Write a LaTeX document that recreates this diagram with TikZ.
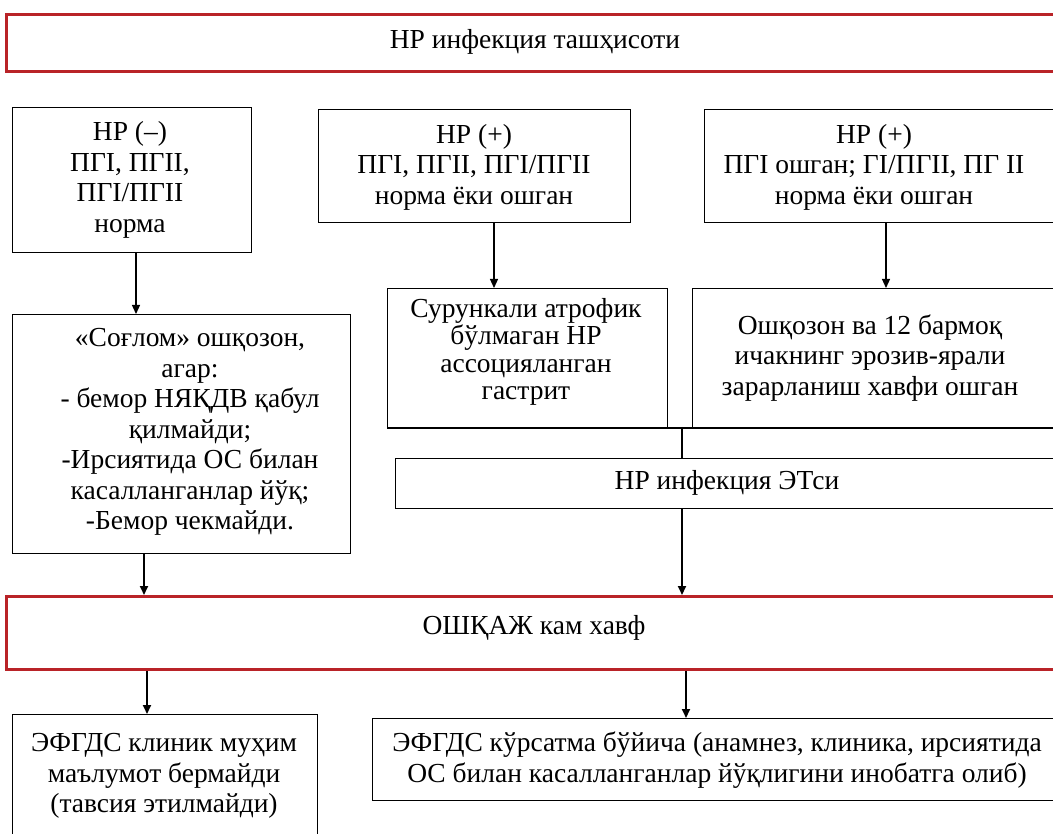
\documentclass[tikz,border=0pt]{standalone}
\usepackage{fontspec}
\setmainfont{Liberation Serif}
\usetikzlibrary{arrows.meta}
\definecolor{redb}{RGB}{185,35,40}
\begin{document}
\begin{tikzpicture}[x=1pt,y=-1pt,
  box/.style={draw=black,line width=1.2pt,inner sep=0pt,anchor=north west,fill=white},
  redbox/.style={draw=redb,line width=3pt,inner sep=0pt,anchor=north west,fill=white},
  txt/.style={font=\fontsize{27.5}{30.5}\selectfont,align=center,inner sep=0pt},
  tighttxt/.style={font=\fontsize{27.5}{27.5}\selectfont,align=center,inner sep=0pt},
  arr/.style={-{Triangle[length=9pt,width=8pt]},line width=1.2pt},
  tarr/.style={-{Triangle[length=9pt,width=8pt]},line width=2pt}]
\clip (0,0) rectangle (1053,834);
\fill[white] (0,0) rectangle (1053,834);
% top
\node[redbox,minimum width=1060pt,minimum height=57pt] (top) at (5,13) {};
\node[txt] (toptxt) at (535,42) {HP инфекция ташҳисоти};
% row 2
\node[box,minimum width=239pt,minimum height=145pt] (a) at (12,107) {};
\node[txt] (atxt) at (130,180) {HP (–)\\ПГI, ПГII,\\ПГI/ПГII\\норма};
\node[box,minimum width=312pt,minimum height=113pt] (b) at (318,109) {};
\node[txt] (btxt) at (474,167) {HP (+)\\ПГI, ПГII, ПГI/ПГII\\норма ёки ошган};
\node[box,minimum width=400pt,minimum height=113pt] (c) at (704,109) {};
\node[txt] (ctxtn) at (874,167) {HP (+)\\ПГI ошган; ГI/ПГII, ПГ II\\норма ёки ошган};
% row 3
\node[box,minimum width=338pt,minimum height=239pt] (d) at (12,314) {};
\node[txt] (dtxt) at (190,432) {«Соғлом» ошқозон,\\агар:\\- бемор НЯҚДВ қабул\\қилмайди;\\-Ирсиятида ОС билан\\касалланганлар йўқ;\\-Бемор чекмайди.};
\node[box,minimum width=280pt,minimum height=139pt] (e) at (387,288) {};
\node[tighttxt] (etxt) at (526,352) {Сурункали атрофик\\бўлмаган HP\\ассоцияланган\\гастрит};
\node[box,minimum width=400pt,minimum height=139pt] (f) at (692,288) {};
\node[txt] (ftxt) at (870,358) {Ошқозон ва 12 бармоқ\\ичакнинг эрозив-ярали\\зарарланиш хавфи ошган};
% row 4
\node[box,minimum width=700pt,minimum height=50pt] (g) at (395,458) {};
\node[txt] (gtxt) at (727,483) {HP инфекция ЭТси};
% red box 2
\node[redbox,minimum width=1060pt,minimum height=73pt] (h) at (5,595) {};
\node[txt] (htxt) at (534,628) {ОШҚАЖ кам хавф};
% bottom
\node[box,minimum width=305pt,minimum height=150pt] (i) at (12,714) {};
\node[txt] (itxt) at (164,776) {ЭФГДС клиник муҳим\\маълумот бермайди\\(тавсия этилмайди)};
\node[box,minimum width=700pt,minimum height=82pt] (j) at (372,718) {};
\node[txt] (jtxt) at (717,760) {ЭФГДС кўрсатма бўйича (анамнез, клиника, ирсиятида\\ОС билан касалланганлар йўқлигини инобатга олиб)};
% connectors
\draw[arr] ([xshift=124pt]a.south west) -- ([xshift=124pt]a.south west |- d.north);
\draw[arr] ([xshift=176pt]b.south west) -- ([xshift=176pt]b.south west |- e.north);
\draw[arr] ([xshift=182pt]c.south west) -- ([xshift=182pt]c.south west |- f.north);
\draw[line width=2pt] (e.south west) -- (f.south east);
\coordinate (jn) at (682,427);
\draw[line width=1.5pt] (jn) -- (jn |- g.north);
\draw[tarr] (jn |- g.south) -- (jn |- h.north);
\draw[tarr] ([xshift=132pt]d.south west) -- ([xshift=132pt]d.south west |- h.north);
\draw[tarr] ([xshift=142pt]h.south west) -- ([xshift=142pt]h.south west |- i.north);
\draw[tarr] ([xshift=681pt]h.south west) -- ([xshift=681pt]h.south west |- j.north);
\end{tikzpicture}
\end{document}
